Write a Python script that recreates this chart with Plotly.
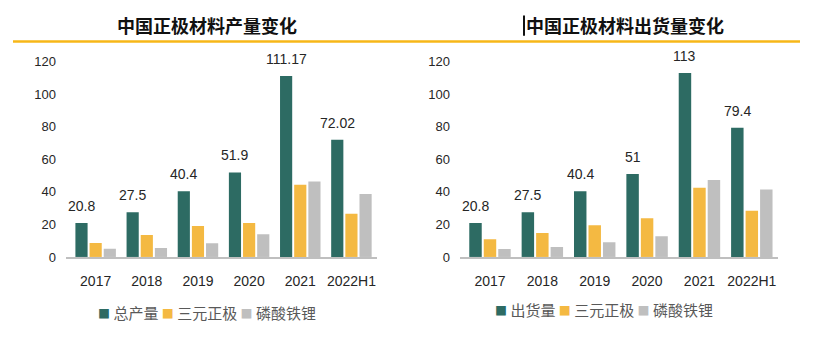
import plotly.graph_objects as go

categories = ["2017", "2018", "2019", "2020", "2021", "2022H1"]

# Left chart: production
prod_total = [20.8, 27.5, 40.4, 51.9, 111.17, 72.02]
prod_ternary = [8.5, 13.5, 19.0, 20.8, 44.3, 26.5]
prod_lfp = [5.1, 5.5, 8.4, 14.0, 46.3, 38.6]

# Right chart: shipments
ship_total = [20.8, 27.5, 40.4, 51, 113, 79.4]
ship_ternary = [10.8, 14.7, 19.4, 23.7, 42.5, 28.4]
ship_lfp = [4.9, 6.1, 9.0, 12.7, 47.2, 41.4]

left_names = ["总产量", "三元正极", "磷酸铁锂"]
right_names = ["出货量", "三元正极", "磷酸铁锂"]
left_title = "中国正极材料产量变化"
right_title = "中国正极材料出货量变化"

colors = ["#2D6B63", "#F4B942", "#BFBFBF"]
num_font = "Liberation Sans, Arial, sans-serif"
cjk_font = "Noto Sans CJK SC, sans-serif"
BARGAP = 0.17

fig = go.Figure()

annotations = []

def add_group(vals_list, names, xa, ya):
    for i, (vals, name) in enumerate(zip(vals_list, names)):
        fig.add_trace(go.Bar(x=categories, y=vals, name=name, marker_color=colors[i],
                             marker_line_width=0, xaxis=xa, yaxis=ya,
                             showlegend=False))
    # value labels above the first (total) bar of each group
    slot = (1 - BARGAP) / len(vals_list)
    for k, v in enumerate(vals_list[0]):
        annotations.append(dict(text=str(v), x=k - slot, y=v, xref=xa, yref=ya,
                                showarrow=False, xanchor="center", yanchor="bottom",
                                yshift=7,
                                font=dict(family=num_font, size=14, color="#262626")))

add_group([prod_total, prod_ternary, prod_lfp], left_names, "x", "y")
add_group([ship_total, ship_ternary, ship_lfp], right_names, "x2", "y2")

def legend_text(names):
    parts = []
    for c, n in zip(colors, names):
        parts.append(f"<span style='color:{c};font-size:12px'>■</span> {n}")
    return " ".join(parts)

xcommon = dict(showline=True, linecolor="#BFBFBF", linewidth=1.5, ticks="",
               showgrid=False, zeroline=False,
               tickfont=dict(family=num_font, size=14, color="#262626"),
               ticklabelstandoff=11)
ycommon = dict(range=[0, 120], tickvals=[0, 20, 40, 60, 80, 100, 120], showline=False,
               showgrid=False, zeroline=False, ticks="",
               tickfont=dict(family=num_font, size=13, color="#262626"),
               ticklabelstandoff=9, domain=[93/354, 297/354])

annotations += [
    dict(text=f"<b>{left_title}</b>", x=207/817, y=(354-19)/354, xref="paper", yref="paper",
         showarrow=False, xanchor="center", yanchor="middle",
         font=dict(family=cjk_font, size=18, color="#111111")),
    dict(text=f"<b>{right_title}</b>", x=625/817, y=(354-19)/354, xref="paper", yref="paper",
         showarrow=False, xanchor="center", yanchor="middle",
         font=dict(family=cjk_font, size=18, color="#111111")),
    dict(text=legend_text(left_names), x=207/817, y=(354-319)/354, xref="paper", yref="paper",
         showarrow=False, xanchor="center", yanchor="middle",
         font=dict(family=cjk_font, size=15, color="#595959")),
    dict(text=legend_text(right_names), x=604/817, y=(354-316)/354, xref="paper", yref="paper",
         showarrow=False, xanchor="center", yanchor="middle",
         font=dict(family=cjk_font, size=15, color="#595959")),
]

fig.update_layout(
    width=817, height=354, autosize=False,
    margin=dict(l=0, r=0, t=0, b=0),
    paper_bgcolor="white", plot_bgcolor="white",
    barmode="group", bargap=BARGAP, bargroupgap=0.14,
    xaxis=dict(domain=[66/817, 377/817], anchor="y", **xcommon),
    yaxis=dict(anchor="x", **ycommon),
    xaxis2=dict(domain=[460/817, 778/817], anchor="y2", **xcommon),
    yaxis2=dict(anchor="x2", **ycommon),
    annotations=annotations,
    shapes=[
        dict(type="line", xref="paper", yref="paper", x0=13/817, x1=800/817,
             y0=(354-36)/354, y1=(354-36)/354, line=dict(color="#F7B718", width=2.5)),
        dict(type="line", xref="paper", yref="paper", x0=524/817, x1=524/817,
             y0=(354-9)/354, y1=(354-30)/354, line=dict(color="#111111", width=2)),
    ],
)

fig.write_html("out.html")
